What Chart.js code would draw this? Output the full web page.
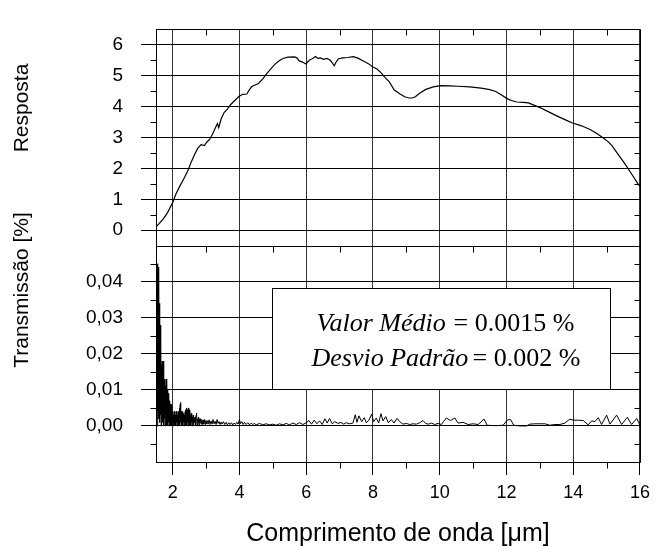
<!DOCTYPE html>
<html>
<head>
<meta charset="utf-8">
<script src="https://cdn.jsdelivr.net/npm/chart.js"></script>
<style>
  html, body { margin: 0; padding: 0; background: #fff; }
  canvas { display: block; }
</style>
</head>
<body>
<canvas id="myChart" width="657" height="546"></canvas>
<script>
// wavelength ticks and the two panels' tick labels
const xTicks = [2, 4, 6, 8, 10, 12, 14, 16];
const xMinor = [3, 5, 7, 9, 11, 13, 15];
const respTicks = [0, 1, 2, 3, 4, 5, 6];
const respMinor = [0.5, 1.5, 2.5, 3.5, 4.5, 5.5];
const transTicks = [0, 0.01, 0.02, 0.03, 0.04];
const transMinor = [-0.005, 0.005, 0.015, 0.025, 0.035, 0.045];

// Resposta (top panel)
const respX = [1.51, 1.6, 1.72, 1.85, 2.0, 2.1, 2.21, 2.33, 2.46, 2.56, 2.66, 2.75, 2.85, 2.95, 3.02, 3.10, 3.2, 3.29, 3.34, 3.38,
  3.45, 3.54, 3.64, 3.74, 3.86, 3.98, 4.1, 4.22, 4.3, 4.37, 4.47, 4.57, 4.7, 4.81, 4.94, 5.06, 5.18, 5.30, 5.45, 5.65,
  5.72, 5.79, 5.87, 5.93, 5.99, 6.09, 6.18, 6.28, 6.35, 6.42, 6.53, 6.62, 6.72, 6.78, 6.84, 6.9, 6.97, 7.1, 7.25, 7.41,
  7.55, 7.71, 7.85, 8.0, 8.12, 8.24, 8.36, 8.49, 8.64, 8.8, 8.95, 9.08, 9.18, 9.27, 9.4, 9.57, 9.78, 10.01, 10.3, 10.55,
  10.9, 11.24, 11.5, 11.68, 11.85, 12.02, 12.15, 12.31, 12.5, 12.66, 12.82, 13.0, 13.25, 13.49, 13.75, 13.98, 14.25, 14.52, 14.72, 14.91,
  15.05, 15.16, 15.35, 15.55, 15.75, 15.94, 16.0];
const respY = [0.12, 0.22, 0.37, 0.58, 0.9, 1.18, 1.42, 1.66, 1.94, 2.22, 2.46, 2.65, 2.77, 2.74, 2.85, 2.93, 3.12, 3.34, 3.45, 3.32,
  3.6, 3.81, 3.92, 4.07, 4.2, 4.33, 4.4, 4.41, 4.55, 4.65, 4.7, 4.75, 4.9, 5.06, 5.22, 5.37, 5.48, 5.56, 5.60, 5.61,
  5.58, 5.48, 5.45, 5.42, 5.38, 5.5, 5.55, 5.62, 5.56, 5.58, 5.53, 5.56, 5.5, 5.42, 5.32, 5.45, 5.55, 5.58, 5.59, 5.62,
  5.57, 5.48, 5.4, 5.28, 5.22, 5.1, 4.95, 4.8, 4.54, 4.42, 4.32, 4.28, 4.28, 4.32, 4.43, 4.55, 4.63, 4.68, 4.67, 4.66,
  4.64, 4.6, 4.55, 4.49, 4.38, 4.26, 4.2, 4.15, 4.14, 4.12, 4.05, 3.97, 3.84, 3.71, 3.58, 3.47, 3.38, 3.25, 3.12, 2.98,
  2.86, 2.74, 2.45, 2.15, 1.82, 1.5, 1.42];

// Transmissão [%] (bottom panel)
const transX = [
  1.53, 1.545, 1.55, 1.555, 1.565, 1.575, 1.585, 1.595, 1.605, 1.615,
  1.625, 1.635, 1.645, 1.655, 1.665, 1.675, 1.685, 1.695, 1.705, 1.715,
  1.725, 1.735, 1.745, 1.755, 1.765, 1.775, 1.785, 1.795, 1.805, 1.815,
  1.825, 1.835, 1.845, 1.855, 1.865, 1.875, 1.885, 1.895, 1.905, 1.915,
  1.925, 1.935, 1.945, 1.955, 1.965, 1.975, 1.985, 1.995, 2.005, 2.015,
  2.025, 2.035, 2.045, 2.055, 2.065, 2.075, 2.085, 2.095, 2.105, 2.115,
  2.125, 2.135, 2.145, 2.155, 2.165, 2.175, 2.185, 2.195, 2.205, 2.215,
  2.225, 2.235, 2.245, 2.255, 2.265, 2.275, 2.285, 2.295, 2.305, 2.315,
  2.325, 2.335, 2.345, 2.355, 2.365, 2.375, 2.385, 2.395, 2.405, 2.415,
  2.425, 2.435, 2.445, 2.455, 2.465, 2.475, 2.485, 2.495, 2.505, 2.515,
  2.525, 2.535, 2.545, 2.555, 2.565, 2.575, 2.585, 2.595, 2.605, 2.615,
  2.625, 2.64, 2.655, 2.67, 2.685, 2.70, 2.715, 2.73, 2.745, 2.76,
  2.775, 2.79, 2.805, 2.82, 2.835, 2.85, 2.87, 2.89, 2.91, 2.93,
  2.95, 2.97, 2.99, 3.01, 3.03, 3.06, 3.09, 3.12, 3.15, 3.18,
  3.21, 3.24, 3.27, 3.30, 3.33, 3.36, 3.39, 3.42, 3.45, 3.48,
  3.52, 3.56, 3.6, 3.64, 3.68, 3.72, 3.76, 3.8, 3.84, 3.88,
  3.92, 3.96, 4.0, 4.03, 4.07, 4.11, 4.15, 4.2, 4.25, 4.3,
  4.35, 4.4, 4.45, 4.5, 4.6, 4.7, 4.8, 4.9, 5.0, 5.1,
  5.2, 5.3, 5.4, 5.5, 5.6, 5.7, 5.8, 5.9, 6.0, 6.08,
  6.16, 6.24, 6.32, 6.4, 6.48, 6.56, 6.63, 6.7, 6.78, 6.86,
  6.95, 7.04, 7.12, 7.2, 7.3, 7.4, 7.47, 7.52, 7.58, 7.66,
  7.74, 7.8, 7.88, 7.96, 8.02, 8.1, 8.17, 8.24, 8.3, 8.38,
  8.46, 8.55, 8.63, 8.72, 8.8, 8.9, 9.0, 9.1, 9.2, 9.3,
  9.4, 9.5, 9.58, 9.66, 9.75, 9.85, 9.95, 10.05, 10.12, 10.2,
  10.32, 10.45, 10.55, 10.7, 10.85, 11.0, 11.15, 11.33, 11.42, 11.6,
  11.75, 11.9, 12.02, 12.12, 12.22, 12.4, 12.6, 12.7, 12.85, 13.0,
  13.15, 13.3, 13.45, 13.6, 13.75, 13.9, 14.0, 14.15, 14.3, 14.45,
  14.55, 14.65, 14.75, 14.85, 15.0, 15.1, 15.3, 15.45, 15.62, 15.75,
  15.9, 16.0];
const transY = [
  0.000, 0.030, 0.045, 0.004, 0.044, 0.002, 0.041, 0.004, 0.034, 0.001,
  0.028, 0.003, 0.021, 0.000, 0.017, 0.002, 0.018, 0.001, 0.016, 0.003,
  0.018, 0.000, 0.012, 0.002, 0.013, 0.000, 0.011, 0.003, 0.013, 0.000,
  0.012, 0.002, 0.010, 0.000, 0.009, 0.001, 0.008, 0.000, 0.007, 0.001,
  0.006, 0.000, 0.005, 0.001, 0.006, 0.000, 0.004, 0.001, 0.004, 0.000,
  0.003, 0.001, 0.004, 0.000, 0.0035, 0.001, 0.003, 0.000, 0.004, 0.001,
  0.0035, 0.000, 0.003, 0.001, 0.004, 0.000, 0.0035, 0.001, 0.005, 0.000,
  0.006, 0.0065, 0.001, 0.004, 0.000, 0.003, 0.001, 0.004, 0.000, 0.003,
  0.001, 0.0035, 0.000, 0.003, 0.001, 0.004, 0.000, 0.0045, 0.001, 0.005,
  0.000, 0.004, 0.001, 0.0045, 0.000, 0.005, 0.001, 0.004, 0.000, 0.0045,
  0.001, 0.003, 0.000, 0.0035, 0.001, 0.003, 0.000, 0.0025, 0.001, 0.003,
  0.000, 0.002, 0.001, 0.0025, 0.000, 0.003, 0.0036, 0.000, 0.002, 0.001,
  0.0025, 0.000, 0.002, 0.001, 0.002, 0.0005, 0.0018, 0.0004, 0.0016, 0.0005,
  0.0018, 0.0004, 0.0015, 0.0006, 0.0015, 0.0005, 0.0017, 0.0004, 0.0014, 0.0005,
  0.0018, 0.0006, 0.0013, 0.0004, 0.0018, 0.0007, 0.0012, 0.0004, 0.0011, 0.0005,
  0.0012, 0.0004, 0.0010, 0.0003, 0.0009, 0.0004, 0.0009, 0.0003, 0.0008, 0.0004,
  0.0010, 0.0005, 0.0018, 0.0006, 0.0012, 0.0004, 0.0010, 0.0004, 0.0009, 0.0003,
  0.0008, 0.0004, 0.0007, 0.0003, 0.0007, 0.0003, 0.0006, 0.0003, 0.0005, 0.0002,
  0.0006, 0.0003, 0.0007, 0.0003, 0.0008, 0.0004, 0.0009, 0.0004, 0.0009, 0.0015,
  0.0005, 0.0016, 0.0006, 0.0014, 0.0004, 0.002, 0.0008, 0.0021, 0.0006, 0.0012,
  0.0007, 0.001, 0.0005, 0.0009, 0.0006, 0.0008, 0.0031, 0.001, 0.0028, 0.0012,
  0.0023, 0.0009, 0.0016, 0.0033, 0.0012, 0.0022, 0.0008, 0.0034, 0.0014, 0.0026,
  0.0009, 0.0018, 0.0008, 0.0021, 0.0012, 0.0005, 0.0007, 0.0004, 0.0006, 0.0005,
  0.0009, 0.0015, 0.0007, 0.0005, 0.0008, 0.0004, 0.0007, 0.0004, 0.0013, 0.0022,
  0.0015, 0.0022, 0.0008, 0.001, 0.0004, 0.0006, 0.0004, 0.0019, 0.0002, 0.0001,
  0.0001, 0.0002, 0.0016, 0.0018, 0.0002, 0.0000, 0.0000, 0.0005, 0.0006, 0.0006,
  0.0006, 0.0002, 0.0004, 0.0004, 0.0008, 0.0019, 0.0016, 0.0016, 0.0015, 0.0003,
  0.0014, 0.0012, 0.0023, 0.0004, 0.0030, 0.0005, 0.0030, 0.0004, 0.0024, 0.0004,
  0.0021, 0.0002];

const yTickFont = { family: '"Liberation Sans", Arial', size: 19 };
const xTickFont = { family: '"Liberation Sans", Arial', size: 18 };

function toPoints(xs, ys) {
  return xs.map((x, i) => ({ x: x, y: ys[i] }));
}

// frame, minor ticks, axis titles and the statistics box
const decorations = {
  id: 'decorations',
  afterDraw(chart) {
    const { ctx, chartArea: a, scales } = chart;
    const x = scales.x, yR = scales.yR, yT = scales.yT;
    const px = v => Math.round(x.getPixelForValue(v)) + 0.5;
    ctx.save();
    ctx.strokeStyle = '#000';
    ctx.lineWidth = 1;
    const L = Math.round(a.left) + 0.5, R = Math.round(a.right) + 0.5;
    const T = Math.round(a.top) + 0.5, B = Math.round(a.bottom) + 0.5;
    const mid = Math.round(yR.bottom) + 0.5;
    ctx.beginPath();
    ctx.rect(L, T, R - L, B - T);
    ctx.moveTo(L, mid); ctx.lineTo(R, mid);
    // minor x ticks: inward at the top of each panel, outward at the bottom
    xMinor.forEach(v => {
      const p = px(v);
      ctx.moveTo(p, T); ctx.lineTo(p, T + 6);
      ctx.moveTo(p, mid); ctx.lineTo(p, mid + 6);
      ctx.moveTo(p, B); ctx.lineTo(p, B + 6);
    });
    // minor y ticks: outward on the left, inward on the right
    const yMinor = (scale, vals) => vals.forEach(v => {
      const p = Math.round(scale.getPixelForValue(v)) + 0.5;
      ctx.moveTo(L - 6, p); ctx.lineTo(L, p);
      ctx.moveTo(R - 6, p); ctx.lineTo(R, p);
    });
    yMinor(yR, respMinor);
    yMinor(yT, transMinor);
    ctx.stroke();

    // statistics box
    const bl = Math.round(x.getPixelForValue(4.98)) + 0.5;
    const br = Math.round(x.getPixelForValue(15.1)) + 0.5;
    const bt = Math.round(yT.getPixelForValue(0.0383)) + 0.5;
    const bb = Math.round(yT.getPixelForValue(0.0102)) + 0.5;
    ctx.fillStyle = '#fff';
    ctx.fillRect(bl, bt, br - bl, bb - bt);
    ctx.strokeRect(bl, bt, br - bl, bb - bt);
    ctx.fillStyle = '#000';
    ctx.textBaseline = 'alphabetic';
    ctx.textAlign = 'left';
    ctx.font = 'italic 26px "Liberation Serif", "Times New Roman"';
    ctx.fillText('Valor Médio', bl + 44, bt + 42);
    ctx.fillText('Desvio Padrão', bl + 39, bt + 77);
    ctx.font = '26px "Liberation Serif", "Times New Roman"';
    ctx.fillText('= 0.0015 %', bl + 181, bt + 42);
    ctx.fillText('= 0.002 %', bl + 200, bt + 77);

    // axis titles
    ctx.font = '21px "Liberation Sans", Arial';
    ctx.textAlign = 'center';
    ctx.textBaseline = 'middle';
    const vTitle = (text, cx, cy) => {
      ctx.save();
      ctx.translate(cx, cy);
      ctx.rotate(-Math.PI / 2);
      ctx.fillText(text, 0, 0);
      ctx.restore();
    };
    vTitle('Resposta', 22, 108);
    vTitle('Transmissão [%]', 22, 290);
    ctx.font = '25px "Liberation Sans", Arial';
    ctx.fillText('Comprimento de onda [\u03bcm]', (a.left + a.right) / 2, 534);
    ctx.restore();
  }
};

const ctx = document.getElementById('myChart').getContext('2d');

const myChart = new Chart(ctx, {
  type: 'line',
  data: {
    datasets: [{
      label: 'Resposta',
      data: toPoints(respX, respY),
      yAxisID: 'yR',
      borderColor: '#000',
      borderWidth: 1.2,
      pointRadius: 0,
      tension: 0
    }, {
      label: 'Transmissão',
      data: toPoints(transX, transY),
      yAxisID: 'yT',
      borderColor: '#000',
      borderWidth: 1,
      pointRadius: 0,
      tension: 0
    }]
  },
  options: {
    responsive: false,
    animation: false,
    devicePixelRatio: 1,
    layout: { padding: { top: 14, right: 9, left: 0, bottom: 0 } },
    plugins: {
      legend: { display: false },
      tooltip: { enabled: false }
    },
    scales: {
      x: {
        type: 'linear',
        min: 1.5,
        max: 16,
        afterBuildTicks: s => { s.ticks = xTicks.map(v => ({ value: v })); },
        afterFit: s => { s.height = 84; },
        grid: { color: '#333', lineWidth: 1, tickLength: 13, tickColor: '#000' },
        border: { color: '#000' },
        ticks: { font: xTickFont, color: '#000', padding: 7, maxRotation: 0, autoSkip: false }
      },
      yT: {
        type: 'linear',
        position: 'left',
        stack: 'panels',
        stackWeight: 1,
        min: -0.01,
        max: 0.05,
        afterBuildTicks: s => { s.ticks = transTicks.map(v => ({ value: v })); },
        afterFit: s => { s.width = 156; },
        grid: { color: '#000', lineWidth: 1, tickLength: 15 },
        border: { color: '#000' },
        ticks: {
          font: yTickFont, color: '#000', padding: 18, autoSkip: false,
          callback: v => v.toFixed(2).replace('.', ',')
        }
      },
      yR: {
        type: 'linear',
        position: 'left',
        stack: 'panels',
        stackWeight: 1,
        min: -0.5,
        max: 6.5,
        afterBuildTicks: s => { s.ticks = respTicks.map(v => ({ value: v })); },
        afterFit: s => { s.width = 156; },
        grid: { color: '#000', lineWidth: 1, tickLength: 15 },
        border: { color: '#000' },
        ticks: { font: yTickFont, color: '#000', padding: 18, autoSkip: false, callback: v => String(v) }
      }
    }
  },
  plugins: [decorations]
});
</script>
</body>
</html>
